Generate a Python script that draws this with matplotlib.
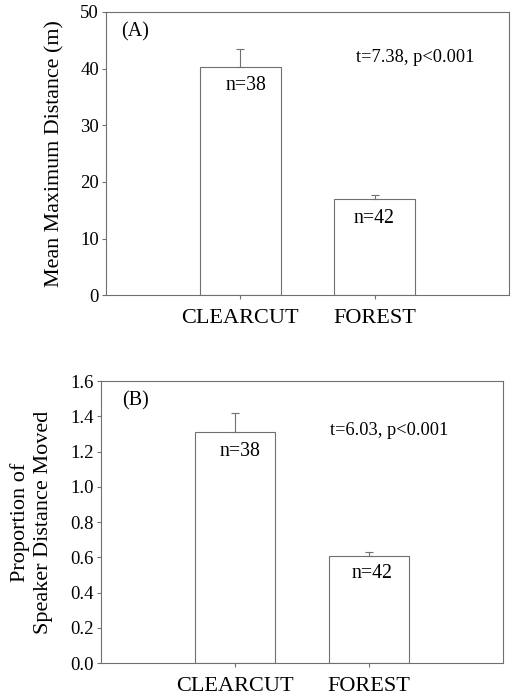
import numpy as np
import matplotlib
matplotlib.use('Agg')
import matplotlib.pyplot as plt

plt.rcParams['font.family'] = ['Liberation Serif', 'DejaVu Serif']

sites = ['CLEARCUT', 'FOREST']
dist_mean = [40.3, 17.0]
dist_err = [3.2, 0.7]
prop_mean = [1.31, 0.61]
prop_err = [0.11, 0.02]
n_labels = ['n=38', 'n=42']

line_col = '#707070'

fig = plt.figure(figsize=(5.13, 6.98), dpi=100)
ax1 = fig.add_axes([0.2066, 0.577, 0.7854, 0.406])
ax2 = fig.add_axes([0.197, 0.050, 0.7835, 0.404])

xpos = np.arange(1, len(sites) + 1)


def draw_panel(ax, means, errs, ylim, yticks, fmt):
    ax.bar(xpos, means, width=0.6, color='white', edgecolor=line_col, linewidth=0.8, zorder=2)
    ax.errorbar(xpos, means, yerr=[np.zeros(len(errs)), errs], fmt='none',
                ecolor=line_col, elinewidth=0.8, capsize=3, capthick=0.8, zorder=3)
    ax.set_xlim(0, 3)
    ax.set_ylim(*ylim)
    ax.set_yticks(yticks)
    ax.set_yticklabels([fmt.format(v) for v in yticks], fontsize=13.5)
    ax.set_xticks(xpos)
    ax.set_xticklabels(sites, fontsize=16)
    ax.tick_params(axis='both', direction='out', color=line_col, width=0.8, length=3)
    ax.tick_params(axis='x', pad=7)
    ax.tick_params(axis='y', pad=2)
    for s in ax.spines.values():
        s.set_color(line_col)
        s.set_linewidth(0.8)


draw_panel(ax1, dist_mean, dist_err, (0, 50), [0, 10, 20, 30, 40, 50], '{:.0f}')
ax1.set_ylabel('Mean Maximum Distance (m)', fontsize=15.8)
ax1.yaxis.set_label_coords(-0.104, 0.5)
ax1.text(0.22, 46.5, '(A)', fontsize=14.5, ha='center', va='center')
ax1.text(2.3, 41.9, 't=7.38, p<0.001', fontsize=13.2, ha='center', va='center')
ax1.text(1.04, 37.0, n_labels[0], fontsize=14.3, ha='center', va='center')
ax1.text(2.0, 13.6, n_labels[1], fontsize=14.3, ha='center', va='center')

draw_panel(ax2, prop_mean, prop_err, (0, 1.6), [0, 0.2, 0.4, 0.6, 0.8, 1.0, 1.2, 1.4, 1.6], '{:.1f}')
ax2.set_ylabel('Proportion of\nSpeaker Distance Moved', fontsize=16, linespacing=1.3)
ax2.yaxis.set_label_coords(-0.119, 0.5)
ax2.text(0.26, 1.49, '(B)', fontsize=14.5, ha='center', va='center')
ax2.text(2.15, 1.32, 't=6.03, p<0.001', fontsize=13.2, ha='center', va='center')
ax2.text(1.04, 1.20, n_labels[0], fontsize=14.3, ha='center', va='center')
ax2.text(2.02, 0.51, n_labels[1], fontsize=14.3, ha='center', va='center')

fig.savefig('out.png', dpi=100)
